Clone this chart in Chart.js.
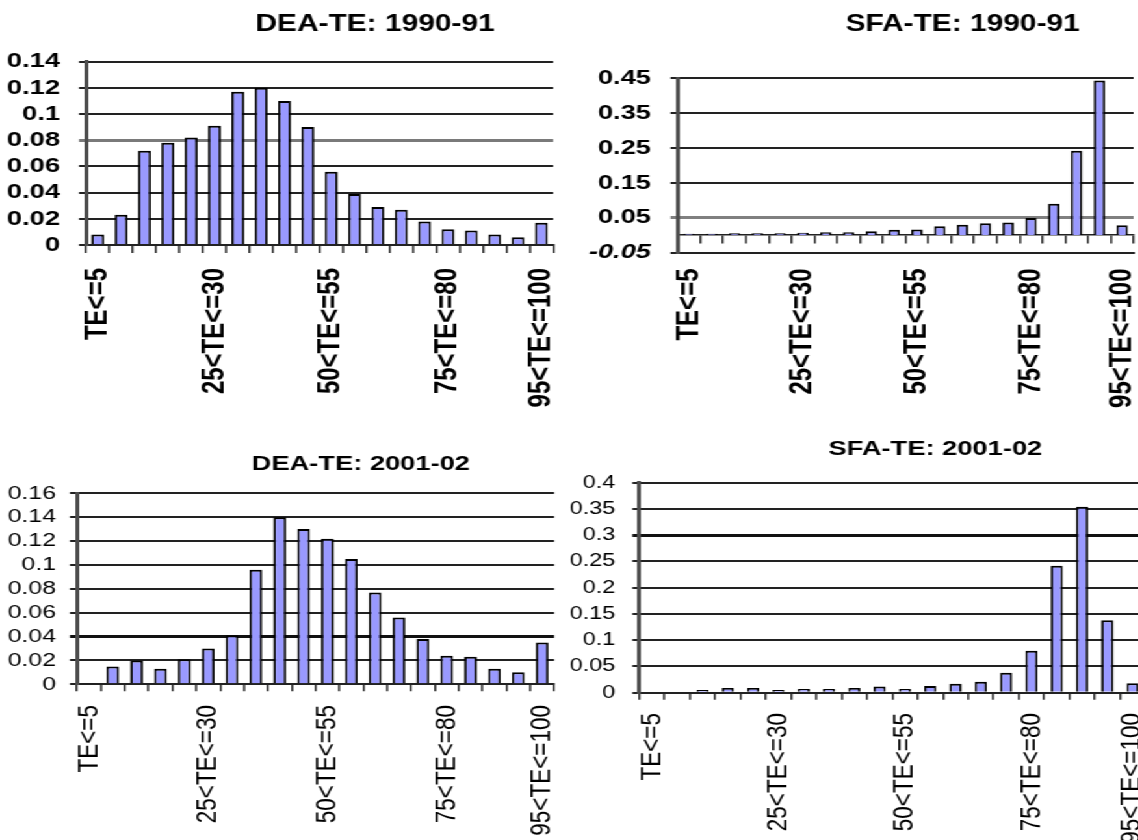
<!DOCTYPE html>
<html>
<head>
<meta charset="utf-8">
<script src="https://cdn.jsdelivr.net/npm/chart.js@4.4.1/dist/chart.umd.min.js"></script>
<style>
  html, body { margin: 0; padding: 0; background: #fff; overflow: hidden; width: 1138px; height: 840px; }
  /* the four histograms are laid out on a stage that is widened horizontally */
  #stage { position: absolute; left: 0; top: 0; width: 876px; height: 840px;
           transform: scaleX(1.3); transform-origin: 0 0; }
  #stage canvas { position: absolute; }
</style>
</head>
<body>
<div id="stage">
  <canvas id="dea1990" width="577" height="420" style="left:0px;top:0px"></canvas>
  <canvas id="sfa1990" width="597" height="420" style="left:442.3px;top:0px"></canvas>
  <canvas id="dea2001" width="555" height="420" style="left:0px;top:420px"></canvas>
  <canvas id="sfa2001" width="577" height="420" style="left:430.8px;top:420px"></canvas>
</div>
<script>
// Technical-efficiency bins (percent)
const categories = [
  "TE<=5", "5<TE<=10", "10<TE<=15", "15<TE<=20", "20<TE<=25",
  "25<TE<=30", "30<TE<=35", "35<TE<=40", "40<TE<=45", "45<TE<=50",
  "50<TE<=55", "55<TE<=60", "60<TE<=65", "65<TE<=70", "70<TE<=75",
  "75<TE<=80", "80<TE<=85", "85<TE<=90", "90<TE<=95", "95<TE<=100"
];
// bins whose names are printed under the axis
const labeledBins = ["TE<=5", "25<TE<=30", "50<TE<=55", "75<TE<=80", "95<TE<=100"];

// share of units falling in each bin
const deaTe1990 = [0.008, 0.023, 0.072, 0.078, 0.082, 0.091, 0.117, 0.120, 0.110, 0.090,
                   0.056, 0.039, 0.029, 0.027, 0.018, 0.012, 0.011, 0.008, 0.006, 0.017];
const sfaTe1990 = [0.004, 0.004, 0.005, 0.005, 0.005, 0.007, 0.008, 0.008, 0.011, 0.015,
                   0.016, 0.025, 0.030, 0.034, 0.036, 0.049, 0.090, 0.242, 0.444, 0.028];
const deaTe2001 = [0.001, 0.015, 0.020, 0.013, 0.021, 0.030, 0.041, 0.096, 0.140, 0.130,
                   0.122, 0.105, 0.077, 0.056, 0.038, 0.024, 0.023, 0.013, 0.010, 0.035];
const sfaTe2001 = [0, 0, 0.005, 0.009, 0.009, 0.005, 0.007, 0.007, 0.009, 0.012,
                   0.007, 0.013, 0.017, 0.021, 0.038, 0.080, 0.242, 0.354, 0.138, 0.018];

// value-axis tick labels
const deaTicks1990 = [0, 0.02, 0.04, 0.06, 0.08, 0.1, 0.12, 0.14];
const sfaTicks1990 = [-0.05, 0.05, 0.15, 0.25, 0.35, 0.45];
const deaTicks2001 = [0, 0.02, 0.04, 0.06, 0.08, 0.1, 0.12, 0.14, 0.16];
const sfaTicks2001 = [0, 0.05, 0.1, 0.15, 0.2, 0.25, 0.3, 0.35, 0.4];

const FONT = "'Liberation Sans', Arial, Helvetica, sans-serif";
const fmt = v => String(+Number(v).toFixed(2));
const binLabel = (value, index) => labeledBins.includes(categories[index]) ? categories[index] : '';

function histogram(id, o) {
  const weight = o.bold ? 'bold' : 'normal';
  const isAccent = ctx => ctx.tick && Math.abs(ctx.tick.value - o.accent) < 1e-9;

  const labelTicks = {
    autoSkip: false, minRotation: 90, maxRotation: 90,
    padding: o.xPad, color: '#000',
    font: { family: FONT, size: o.xFont, weight: weight },
    callback: binLabel
  };
  const tickMarks = {
    display: true, offset: true, drawOnChartArea: false, drawTicks: true,
    tickLength: o.xTick, color: '#333', lineWidth: 1.6
  };

  const scales = {};
  if (o.zeroInside) {
    // category axis crossing the value axis at 0, labels kept below the plot
    scales.x = {
      type: 'category', offset: true, position: { y: 0 },
      afterFit: s => { s.height = 0; },
      grid: tickMarks,
      border: { display: true, color: '#222', width: 1.5 },
      ticks: { display: false }
    };
    scales.x2 = {
      type: 'category', labels: categories, offset: true, position: 'bottom',
      afterFit: s => { s.height = o.xHeight; },
      grid: { display: false },
      border: { display: true, color: '#222', width: 2 },
      ticks: labelTicks
    };
  } else {
    scales.x = {
      type: 'category', offset: true, position: 'bottom',
      afterFit: s => { s.height = o.xHeight; },
      grid: tickMarks,
      border: { display: true, color: '#222', width: 2 },
      ticks: labelTicks
    };
  }
  scales.y = {
    type: 'linear', position: 'left',
    min: o.ticks[0], max: o.ticks[o.ticks.length - 1],
    afterBuildTicks: s => { s.ticks = o.ticks.map(v => ({ value: v })); },
    afterFit: s => { s.width = o.yWidth; },
    grid: {
      drawTicks: true, tickLength: 5.4,
      color: ctx => isAccent(ctx) ? o.accentColor : '#222',
      lineWidth: ctx => isAccent(ctx) ? 3 : 2
    },
    border: { display: true, color: '#4d4d4d', width: 3 },
    ticks: {
      autoSkip: false,
      padding: o.yPad, color: '#000',
      font: ctx => ({ family: FONT, size: o.yFont, weight: weight,
                      style: ctx.tick && ctx.tick.value < 0 ? 'italic' : 'normal' }),
      callback: v => fmt(v)
    }
  };
  // blank room on the right so the title sits where it belongs
  scales.yRoom = {
    type: 'linear', position: 'right', display: true,
    grid: { display: false }, border: { display: false }, ticks: { display: false },
    afterFit: s => { s.width = o.rightWidth; }
  };

  return new Chart(document.getElementById(id), {
    type: 'bar',
    data: {
      labels: categories,
      datasets: [{
        data: o.values, xAxisID: 'x', yAxisID: 'y',
        backgroundColor: '#9999ff', borderColor: '#000',
        borderWidth: { top: 2, left: 1.8, right: 1.8, bottom: 0 },
        borderSkipped: 'start',
        barPercentage: o.barPct, categoryPercentage: 1
      }]
    },
    options: {
      responsive: false, animation: false, events: [], devicePixelRatio: 1,
      layout: { padding: 0 },
      scales: scales,
      plugins: {
        legend: { display: false },
        tooltip: { enabled: false },
        title: {
          display: true, text: o.title, color: '#000',
          font: { family: FONT, size: o.titleFont, weight: 'bold', lineHeight: 1.2 },
          padding: { top: o.titleTop, bottom: o.titleBottom }
        }
      }
    }
  });
}

histogram('dea1990', {
  title: 'DEA-TE: 1990-91', values: deaTe1990, ticks: deaTicks1990,
  bold: true, titleFont: 23, titleTop: 11, titleBottom: 23,
  yFont: 21, yPad: 14.6, yWidth: 66.2, rightWidth: 151.6,
  xFont: 24, xPad: 15, xTick: 8, xHeight: 175,
  barPct: 0.55, accent: 0.08, accentColor: '#7a7a7a'
});

histogram('sfa1990', {
  title: 'SFA-TE: 1990-91', values: sfaTe1990, ticks: sfaTicks1990, zeroInside: true,
  bold: true, titleFont: 23, titleTop: 11, titleBottom: 39.7,
  yFont: 21, yPad: 15, yWidth: 79.2, rightWidth: 167,
  xFont: 24, xPad: 8, xTick: 8, xHeight: 167.5,
  barPct: 0.5, accent: 0.05, accentColor: '#808080'
});

histogram('dea2001', {
  title: 'DEA-TE: 2001-02', values: deaTe2001, ticks: deaTicks2001,
  bold: false, titleFont: 21, titleTop: 31.4, titleBottom: 16.7,
  yFont: 19, yPad: 10.8, yWidth: 59.2, rightWidth: 128.8,
  xFont: 22.5, xPad: 13.7, xTick: 7, xHeight: 155.7,
  barPct: 0.53, accent: 0.04, accentColor: '#111'
});

histogram('sfa2001', {
  title: 'SFA-TE: 2001-02', values: sfaTe2001, ticks: sfaTicks2001,
  bold: false, titleFont: 21, titleTop: 16.4, titleBottom: 21.1,
  yFont: 18, yPad: 13.1, yWidth: 60.8, rightWidth: 127,
  xFont: 22.5, xPad: 13.3, xTick: 7, xHeight: 147.3,
  barPct: 0.48, accent: 0.3, accentColor: '#111'
});
</script>
</body>
</html>
